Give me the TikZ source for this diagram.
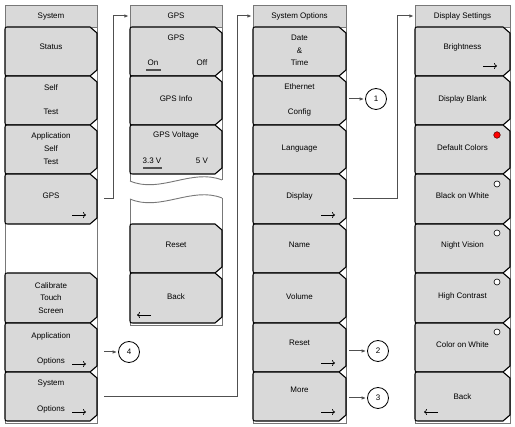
\documentclass[tikz,border=0pt]{standalone}
\usepackage{fontspec}
\setmainfont{Liberation Sans}
\usetikzlibrary{arrows.meta}
\definecolor{btnfill}{RGB}{217,217,217}
\definecolor{framegray}{RGB}{120,120,120}
\definecolor{conngray}{RGB}{80,80,80}
\tikzset{
  btnshape/.style={draw=black, line width=1.1pt, fill=btnfill, line join=round},
  framebox/.style={draw=framegray, line width=0.9pt, fill=white},
  titlebox/.style={draw=framegray, line width=0.9pt, fill=btnfill},
  lbl/.style={inner sep=0pt, text height=5.7pt, text depth=0pt, font=\fontsize{8}{9.5}\selectfont},
  conn/.style={draw=conngray, line width=1pt, -{Latex[length=4.5pt,width=3.5pt]}, shorten >=1pt},
  barrow/.style={draw=black, line width=0.7pt, -{To[length=3pt,width=6pt]}},
  circ/.style={draw=black, line width=0.8pt, circle, minimum size=21pt, inner sep=0pt, fill=white, font=\fontsize{8}{9.5}\selectfont},
  uline/.style={draw=conngray, line width=1.1pt},
  radio/.style={draw=black, line width=0.6pt, fill=white},
}
\newcommand\btn[5]{%
  \path[btnshape] (#2+4,#3) -- (#4-7,#3) -- (#4,#3+6) -- (#4,#5-6) -- (#4-7,#5) -- (#2+4,#5) .. controls (#2,#5) .. (#2,#5-4) -- (#2,#3+4) .. controls (#2,#3) .. (#2+4,#3) -- cycle;
  \node[inner sep=0pt, minimum width={(#4-#2)*1pt}, minimum height={(#5-#3)*1pt}] (#1) at ({(#2+#4)/2},{(#3+#5)/2}) {};
}
\begin{document}
\begin{tikzpicture}[x=1pt,y=-1pt]
\useasboundingbox (0,0) rectangle (515,427);
\fill[white] (0,0) rectangle (515,427);

% ---------- Column 1: System ----------
\path[framebox] (5,5) rectangle (97,423);
\path[titlebox] (5,5) rectangle (97,27);
\node[lbl] (t1) at (51,16) {System};
\btn{s1}{5}{27}{97}{76}
\btn{s2}{5}{76}{97}{125}
\btn{s3}{5}{125}{97}{174}
\btn{s4}{5}{174}{97}{224}
\btn{s5}{5}{273}{97}{323}
\btn{s6}{5}{323}{97}{372}
\btn{s7}{5}{372}{97}{421}
\node[lbl] (s1a) at (51,47) {Status};
\node[lbl] (s2a) at (51,88) {Self};
\node[lbl] (s2b) at (51,112) {Test};
\node[lbl] (s3a) at (51,136) {Application};
\node[lbl] (s3b) at (51,149) {Self};
\node[lbl] (s3c) at (51,162) {Test};
\node[lbl] (s4a) at (51,196) {GPS};
\draw[barrow] (72,215) -- (86,215);
\node[lbl] (s5a) at (51,286) {Calibrate};
\node[lbl] (s5b) at (51,298) {Touch};
\node[lbl] (s5c) at (51,311) {Screen};
\node[lbl] (s6a) at (51,336) {Application};
\node[lbl] (s6b) at (51,361) {Options};
\draw[barrow] (72,364) -- (86,364);
\node[lbl] (s7a) at (51,383) {System};
\node[lbl] (s7b) at (51,409) {Options};
\draw[barrow] (72,412) -- (86,412);

% ---------- Column 2: GPS ----------
\fill[white] (130,5) rectangle (222,325);
\path[titlebox] (130,5) rectangle (222,27);
\draw[framegray, line width=0.9pt] (130,181) -- (130,5) -- (222,5) -- (222,180);
\draw[framegray, line width=0.9pt] (130,199) -- (130,325) -- (222,325) -- (222,198);
\draw[framegray, line width=0.9pt] (130,181) .. controls (160,194) and (192,168) .. (222,180);
\draw[framegray, line width=0.9pt] (130,199) .. controls (160,212) and (192,186) .. (222,198);
\node[lbl] (t2) at (176,16) {GPS};
\btn{g1}{130}{27}{222}{76}
\btn{g2}{130}{76}{222}{125}
\btn{g3}{130}{125}{222}{174}
\btn{g4}{130}{224}{222}{273}
\btn{g5}{130}{273}{222}{323}
\node[lbl] (g1a) at (176,38) {GPS};
\node[lbl] (g1b) at (153,63) {On};
\node[lbl] (g1c) at (202,63) {Off};
\draw[uline] (146,70) -- (161,70);
\node[lbl] (g2a) at (176,99) {GPS Info};
\node[lbl] (g3a) at (176,135) {GPS Voltage};
\node[lbl] (g3b) at (152,161) {3.3 V};
\node[lbl] (g3c) at (202,161) {5 V};
\draw[uline] (143,168) -- (162,168);
\node[lbl] (g4a) at (176,245) {Reset};
\node[lbl] (g5a) at (176,297) {Back};
\draw[barrow] (151,315) -- (137,315);

% ---------- Column 3: System Options ----------
\path[framebox] (253,5) rectangle (346,423);
\path[titlebox] (253,5) rectangle (346,27);
\node[lbl] (t3) at (299.5,16) {System Options};
\btn{o1}{253}{27}{346}{76}
\btn{o2}{253}{76}{346}{125}
\btn{o3}{253}{125}{346}{174}
\btn{o4}{253}{174}{346}{224}
\btn{o5}{253}{224}{346}{273}
\btn{o6}{253}{273}{346}{323}
\btn{o7}{253}{323}{346}{372}
\btn{o8}{253}{372}{346}{421}
\node[lbl] (o1a) at (299.5,38) {Date};
\node[lbl] (o1b) at (299.5,51) {\&};
\node[lbl] (o1c) at (299.5,63) {Time};
\node[lbl] (o2a) at (299.5,87) {Ethernet};
\node[lbl] (o2b) at (299.5,112) {Config};
\node[lbl] (o3a) at (299.5,148) {Language};
\node[lbl] (o4a) at (299.5,196) {Display};
\draw[barrow] (321,215) -- (335,215);
\node[lbl] (o5a) at (299.5,245) {Name};
\node[lbl] (o6a) at (299.5,297) {Volume};
\node[lbl] (o7a) at (299.5,343) {Reset};
\draw[barrow] (321,363) -- (335,363);
\node[lbl] (o8a) at (299.5,390) {More};
\draw[barrow] (321,412) -- (335,412);

% ---------- Column 4: Display Settings ----------
\path[framebox] (415,5) rectangle (510,423);
\path[titlebox] (415,5) rectangle (510,27);
\node[lbl] (t4) at (462.5,16) {Display Settings};
\btn{d1}{415}{27}{510}{76}
\btn{d2}{415}{76}{510}{125}
\btn{d3}{415}{125}{510}{174}
\btn{d4}{415}{174}{510}{224}
\btn{d5}{415}{224}{510}{273}
\btn{d6}{415}{273}{510}{323}
\btn{d7}{415}{323}{510}{372}
\btn{d8}{415}{372}{510}{421}
\node[lbl] (d1a) at (462.5,47) {Brightness};
\draw[barrow] (483,66) -- (497,66);
\node[lbl] (d2a) at (462.5,99) {Display Blank};
\node[lbl] (d3a) at (462.5,148) {Default Colors};
\filldraw[fill=red, draw=black!70!red, line width=0.5pt] (497,135) circle[radius=3.3];
\node[lbl] (d4a) at (462.5,196) {Black on White};
\path[radio] (497,184) circle[radius=3];
\node[lbl] (d5a) at (462.5,245) {Night Vision};
\path[radio] (497,233) circle[radius=3];
\node[lbl] (d6a) at (462.5,296) {High Contrast};
\path[radio] (497,282) circle[radius=3];
\node[lbl] (d7a) at (462.5,345) {Color on White};
\path[radio] (497,332) circle[radius=3];
\node[lbl] (d8a) at (462.5,397) {Back};
\draw[barrow] (438,412) -- (424,412);

% ---------- Callout circles ----------
\node[circ] (c1) at (376,99) {1};
\node[circ] (c2) at (378,351) {2};
\node[circ] (c3) at (378,398) {3};
\node[circ] (c4) at (129,352) {4};

% ---------- Connectors ----------
\draw[conn] ([xshift=7pt]s4.east) -- ++(9,0) |- (g1.west |- t2);
\draw[conn] ([xshift=7pt]s7.east) -- ++(133,0) |- (o1.west |- t3);
\draw[conn] ([xshift=7pt]o4.east) -- ++(44,0) |- (d1.west |- t4);
\draw[conn] ([xshift=3pt]o2.east |- c1) -- (c1.west);
\draw[conn] ([xshift=3pt]o7.east |- c2) -- (c2.west);
\draw[conn] ([xshift=3pt]o8.east |- c3) -- (c3.west);
\draw[conn] ([xshift=7pt]s6.east |- c4) -- (c4.west);
\end{tikzpicture}
\end{document}
